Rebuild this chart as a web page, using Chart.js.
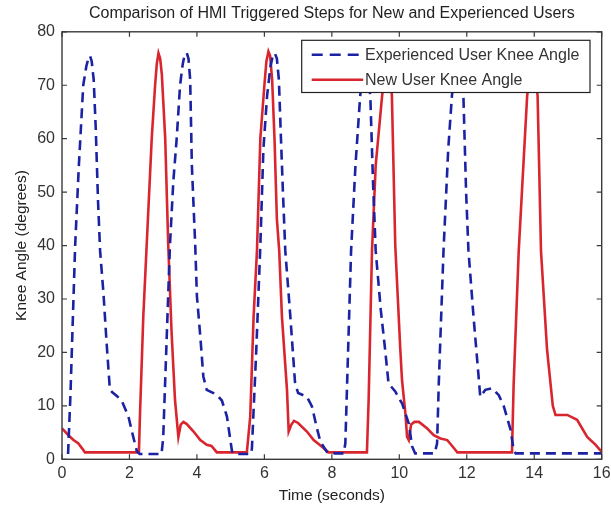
<!DOCTYPE html>
<html>
<head>
<meta charset="utf-8">
<script src="https://cdn.jsdelivr.net/npm/chart.js@4.4.1/dist/chart.umd.min.js"></script>
<style>
  html, body { margin: 0; padding: 0; background: #ffffff; }
  #wrap { width: 611px; height: 506px; }
</style>
</head>
<body>
<div id="wrap"><canvas id="c" width="611" height="506"></canvas></div>
<script>
// ---- data ----
const chartTitle = "Comparison of HMI Triggered Steps for New and Experienced Users";
const xTitle = "Time (seconds)";
const yTitle = "Knee Angle (degrees)";
const seriesNames = ["Experienced User Knee Angle", "New User Knee Angle"];
const xTicks = [0, 2, 4, 6, 8, 10, 12, 14, 16];
const yTicks = [0, 10, 20, 30, 40, 50, 60, 70, 80];

const expTime = [0.18,0.25,0.3,0.39,0.5,0.63,0.72,0.78,0.83,0.88,0.94,1.0,1.07,1.13,1.23,1.32,1.42,1.5,1.6,1.77,1.97,2.1,2.22,2.3,2.95,
  3.0,3.1,3.2,3.3,3.4,3.5,3.58,3.64,3.7,3.75,3.8,3.85,3.95,4.0,4.1,4.19,4.29,4.49,4.64,4.74,4.89,4.97,5.04,5.1,5.6,
  5.63,5.76,5.88,5.97,6.08,6.18,6.25,6.31,6.37,6.43,6.48,6.55,6.62,6.77,6.91,7.0,7.26,7.41,7.55,7.66,7.85,7.95,8.35,
  8.4,8.57,8.7,8.84,8.93,8.99,9.05,9.14,9.22,9.3,9.45,9.58,9.68,9.88,10.03,10.08,10.28,10.38,10.47,11.05,
  11.12,11.17,11.31,11.45,11.56,11.66,11.73,11.8,11.9,11.98,12.05,12.2,12.35,12.4,12.55,12.75,12.95,13.1,13.3,13.39,13.45,16];
const expAngle = [1,12,22,40,55,70,73.5,75,75.5,74.5,71,62,48,39,31,22,13,12.5,12,11,8,4.5,1.5,1,1,
  4,22,40,52,60,70,74,75.8,76,75,71,55,40,30.5,23,15.5,13,12.4,11.7,11,8,4.5,1.5,1,1,
  2,20.5,40,58,68,73.5,75.5,76,75,71,62,50,39,26.7,14.2,12.4,11.7,9.9,6,3.3,1.4,1.1,1.1,
  3,39,55,68,73,75,73.5,68,52,39,28,20.5,14.2,12.7,11,10.5,6.7,2.4,1.1,1.1,
  3,14.2,39,58,68,74,75,74,68,50,39,26.7,15.5,11.7,13,13.3,12,9.9,5.5,1.7,1.1,1.1];

const newTime = [0,0.19,0.34,0.48,0.6,0.68,2.28,2.31,2.41,2.51,2.66,2.76,2.81,2.86,2.91,2.96,3.06,3.15,3.25,3.35,3.45,
  3.52,3.6,3.7,3.9,4.1,4.29,4.43,4.5,4.59,5.48,5.58,5.68,5.78,5.88,6.0,6.06,6.12,6.17,6.23,6.3,6.37,6.44,6.52,6.67,6.72,
  6.8,6.88,7.0,7.26,7.46,7.7,7.9,9.04,9.09,9.19,9.3,9.49,9.58,9.65,9.72,9.78,9.88,10.03,10.08,10.18,10.23,10.28,
  10.35,10.45,10.58,10.82,11.02,11.22,11.42,11.5,11.67,11.72,13.34,13.39,13.54,13.79,13.89,13.95,14.01,14.1,14.2,
  14.38,14.55,14.63,14.98,15.27,15.57,15.82,16];
const newAngle = [5.8,4.5,3.6,3,2,1.3,1.3,8,26.7,40,60,70,74,76,75,72,60,40,23.6,11.1,4.2,
  6.5,7,6.6,5.2,3.6,2.7,2.5,2,1.3,1.3,8,26.7,39,60,70,74.5,76.3,75.5,71,60,45,39,26.7,13,5.2,
  6.5,7.2,6.8,5.2,3.6,2.4,1.3,1.3,11,39,55,68,73,75,73,68,40,20.5,14.8,8.6,4.2,3.6,
  6.5,7,7,5.8,4.5,3.9,3.6,3,1.7,1.3,1.3,14.2,39,68,73.5,75,73.5,68,39,
  20.5,10,8.3,8.3,7.4,4.2,2.7,1.4];

// ---- styles ----
const BLUE = '#1b22a3';
const RED = '#d9262e';
const FRAME = '#3a3a3a';
const TEXT = '#333333';
const FONT = "'Liberation Sans', Arial, sans-serif";

function pts(xs, ys) { return xs.map((x, i) => ({ x: x, y: ys[i] })); }

// Legend box above the data, frame and inward tick marks on all four sides
const framePlugin = {
  id: 'frame',
  afterDatasetsDraw(chart) {
    const ctx = chart.ctx;
    const a = chart.chartArea;
    const xs = chart.scales.x, ys = chart.scales.y;
    ctx.save();
    const lx0 = a.right - 300, lx1 = a.right - 11.7;
    const ly0 = a.top + 8.5, ly1 = a.top + 60.7;
    ctx.fillStyle = '#ffffff';
    ctx.fillRect(lx0, ly0, lx1 - lx0, ly1 - ly0);
    ctx.strokeStyle = '#222222';
    ctx.lineWidth = 1.2;
    ctx.strokeRect(lx0, ly0, lx1 - lx0, ly1 - ly0);
    const rows = [
      { name: seriesNames[0], color: BLUE, dash: [11, 7] },
      { name: seriesNames[1], color: RED, dash: [] }
    ];
    rows.forEach((r, i) => {
      const cy = ly0 + 14.5 + i * 25;
      ctx.beginPath();
      ctx.setLineDash(r.dash);
      ctx.strokeStyle = r.color;
      ctx.lineWidth = 2.6;
      ctx.moveTo(lx0 + 10, cy);
      ctx.lineTo(lx0 + 61.5, cy);
      ctx.stroke();
      ctx.setLineDash([]);
      ctx.fillStyle = TEXT;
      ctx.font = "16px " + FONT;
      ctx.textBaseline = 'middle';
      ctx.textAlign = 'left';
      ctx.fillText(r.name, lx0 + 63.3, cy + 1);
    });
    ctx.strokeStyle = FRAME;
    ctx.lineWidth = 1.4;
    ctx.strokeRect(a.left, a.top, a.right - a.left, a.bottom - a.top);
    ctx.lineWidth = 1.2;
    ctx.beginPath();
    const tl = 5;
    xTicks.forEach(v => {
      const px = xs.getPixelForValue(v);
      ctx.moveTo(px, a.bottom); ctx.lineTo(px, a.bottom - tl);
      ctx.moveTo(px, a.top); ctx.lineTo(px, a.top + tl);
    });
    yTicks.forEach(v => {
      const py = ys.getPixelForValue(v);
      ctx.moveTo(a.left, py); ctx.lineTo(a.left + tl, py);
      ctx.moveTo(a.right, py); ctx.lineTo(a.right - tl, py);
    });
    ctx.stroke();
    ctx.restore();
  }
};

new Chart(document.getElementById('c'), {
  type: 'line',
  data: {
    datasets: [
      {
        label: seriesNames[0],
        data: pts(expTime, expAngle),
        borderColor: BLUE,
        borderWidth: 2.6,
        borderDash: [10, 6],
        pointRadius: 0,
        tension: 0,
        fill: false
      },
      {
        label: seriesNames[1],
        data: pts(newTime, newAngle),
        borderColor: RED,
        borderWidth: 2.6,
        pointRadius: 0,
        tension: 0,
        fill: false
      }
    ]
  },
  options: {
    responsive: false,
    animation: false,
    devicePixelRatio: 1,
    layout: { padding: { left: 0, right: 0, top: 0, bottom: 0 } },
    plugins: {
      legend: { display: false },
      tooltip: { enabled: false },
      title: {
        display: true,
        text: chartTitle,
        fullSize: false,
        color: '#222222',
        font: { family: FONT, size: 16, weight: 'normal', lineHeight: 1.2 },
        padding: { top: 4, bottom: 8.6 }
      }
    },
    scales: {
      x: {
        type: 'linear',
        min: 0, max: 16,
        afterFit(scale) { scale.height = 46.7; scale.paddingRight = 9.3; },
        afterBuildTicks(scale) { scale.ticks = xTicks.map(v => ({ value: v })); },
        grid: { display: false, drawTicks: false },
        border: { display: false },
        ticks: { color: TEXT, padding: 5, maxRotation: 0, font: { family: FONT, size: 16 } },
        title: { display: true, text: xTitle, color: '#222222', padding: { top: 0, bottom: 1 },
                 font: { family: FONT, size: 15.5, lineHeight: 1.2 } }
      },
      y: {
        type: 'linear',
        min: 0, max: 80,
        afterFit(scale) { scale.width = 62; },
        afterBuildTicks(scale) { scale.ticks = yTicks.map(v => ({ value: v })); },
        grid: { display: false, drawTicks: false },
        border: { display: false },
        ticks: { color: TEXT, padding: 7, font: { family: FONT, size: 16 } },
        title: { display: true, text: yTitle, color: '#222222', padding: { top: 12, bottom: 0 },
                 font: { family: FONT, size: 15.5, lineHeight: 1.2 } }
      }
    }
  },
  plugins: [framePlugin]
});
</script>
</body>
</html>
